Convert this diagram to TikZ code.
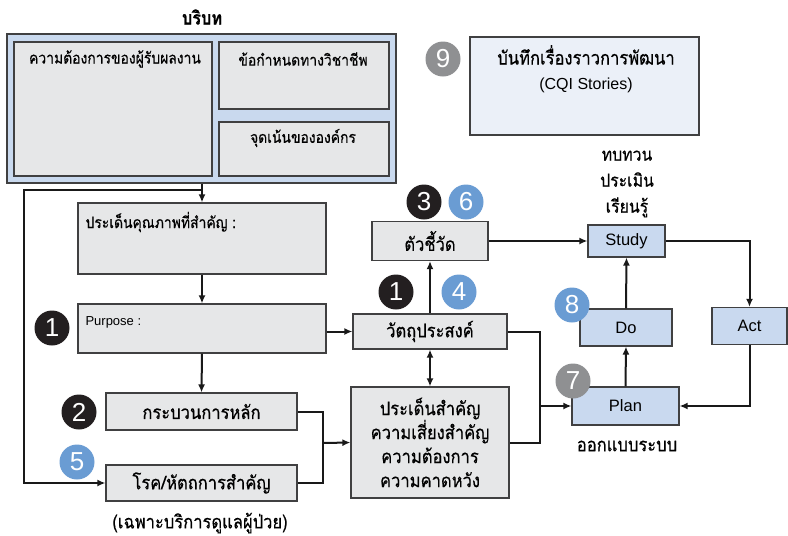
\documentclass[tikz,border=0pt]{standalone}
\usepackage{fontspec}
\setmainfont{Liberation Sans}
\newfontfamily\thaifont[Script=Thai,FakeBold=0.5,FakeStretch=0.88]{Loma}
\usetikzlibrary{arrows.meta}

\definecolor{ctxblue}{HTML}{C9D9EE}
\definecolor{boxgray}{HTML}{E6E7E8}
\definecolor{pdsablue}{HTML}{C9D9EF}
\definecolor{cqiblue}{HTML}{EBF0F8}
\definecolor{numblack}{HTML}{231F20}
\definecolor{numblue}{HTML}{6A9CD3}
\definecolor{numgray}{HTML}{8F9092}
\definecolor{edge}{HTML}{404041}

\begin{document}
\begin{tikzpicture}[x=1pt,y=-1pt,>={Latex[length=8pt,width=7pt]},
  gbox/.style={draw=edge,line width=1.2pt,fill=boxgray,inner sep=0pt},
  pbox/.style={draw=edge,line width=1.2pt,fill=pdsablue,inner sep=0pt,font=\fontsize{16.5}{18}\selectfont},
  th/.style={font=\thaifont\fontsize{15.8}{18}\selectfont},
  thbig/.style={font=\thaifont\fontsize{18.8}{24}\selectfont},
  num/.style={circle,minimum size=35pt,inner sep=0pt,text=white,font=\fontsize{26}{26}\selectfont},
  nblack/.style={num,fill=numblack},
  nblue/.style={num,fill=numblue},
  ngray/.style={num,fill=numgray},
  conn/.style={line width=2pt,black!90}]
\useasboundingbox (0,0) rectangle (788,536);

% context
\node[thbig,font=\thaifont\bfseries\fontsize{18.5}{20}\selectfont] (ttl) at (202,17) {บริบท};
\node[draw=edge,line width=1.2pt,fill=ctxblue,minimum width=389,minimum height=149] (ctx) at (201.5,108.5) {};
\node[gbox,minimum width=198,minimum height=134] (need) at (113,109) {};
\node[gbox,minimum width=170,minimum height=67] (prof) at (304,75.5) {};
\node[gbox,minimum width=170,minimum height=54] (org) at (304,149) {};
\node[th] (needt) at (115,59) {ความต้องการของผู้รับผลงาน};
\node[th] (proft) at (303,59) {ข้อกำหนดทางวิชาชีพ};
\node[th] (orgt) at (303,138) {จุดเน้นขององค์กร};

% left column
\node[gbox,minimum width=248,minimum height=71] (q) at (202,238.5) {};
\node[th,anchor=west] (qt) at (82,222) {ประเด็นคุณภาพที่สำคัญ :};
\node[gbox,minimum width=248,minimum height=49] (purp) at (202,328.5) {};
\node[anchor=west,font=\fontsize{13}{15}\selectfont] (purpt) at (82,322) {Purpose :};
\node[gbox,thbig,minimum width=191,minimum height=37] (proc) at (201.5,411.5) {กระบวนการหลัก};
\node[gbox,thbig,minimum width=191,minimum height=36] (dis) at (201.5,483) {โรค/หัตถการสำคัญ};
\node[thbig] (note) at (200,523) {(เฉพาะบริการดูแลผู้ป่วย)};

% middle column
\node[gbox,thbig,minimum width=116,minimum height=39] (ind) at (430,241) {ตัวชี้วัด};
\node[gbox,thbig,minimum width=154,minimum height=35] (obj) at (430,331.5) {วัตถุประสงค์};
\node[gbox,thbig,align=center,minimum width=158,minimum height=111] (iss) at (430,442.5)
  {ประเด็นสำคัญ\\ความเสี่ยงสำคัญ\\ความต้องการ\\ความคาดหวัง};

% PDSA
\node[pbox,minimum width=77,minimum height=32] (study) at (626.5,241) {Study};
\node[pbox,minimum width=92,minimum height=37] (do) at (626,327.5) {Do};
\node[pbox,minimum width=75,minimum height=37] (act) at (749.5,326) {Act};
\node[pbox,minimum width=107,minimum height=38] (plan) at (625.5,406) {Plan};
\node[thbig,align=center,font=\thaifont\fontsize{18}{26}\selectfont] (rev) at (627,184) {ทบทวน\\ประเมิน\\เรียนรู้};
\node[thbig] (des) at (627,446) {ออกแบบระบบ};

% stories
\node[draw=edge,line width=1.2pt,fill=cqiblue,minimum width=229,minimum height=98] (cqi) at (584.5,86) {};
\node[align=center,font=\fontsize{16}{25}\selectfont] (cqit) at (586,69)
  {{\thaifont\fontsize{18.8}{25}\selectfont บันทึกเรื่องราวการพัฒนา}\\(CQI Stories)};

% connectors
\coordinate (split) at (202,190);
\coordinate (mrg) at (323,443);
\coordinate (jn) at (540,406);
\draw[conn,->] (ctx.south -| q.north) -- (q.north);
\draw[conn,->] (split) -- (24,190) |- (dis.west);
\draw[conn,->] (q.south) -- (purp.north);
\draw[conn,->] (purp.east |- obj.west) -- (obj.west);
\draw[conn,->] (purp.south) -- (proc.north);
\draw[conn] (proc.east) -| (mrg) |- (dis.east);
\draw[conn,->] (mrg) -- (iss.west);
\draw[conn,<->] (obj.south) -- (iss.north);
\draw[conn,->] (obj.north) -- (ind.south);
\draw[conn,->] (ind.east) -- (study.west);
\draw[conn] (obj.east) -| (jn) |- (iss.east);
\draw[conn,->] (jn) -- (plan.west);
\draw[conn,->] (plan.north) -- (do.south);
\draw[conn,->] (do.north) -- (study.south);
\draw[conn,->] (study.east) -| (act.north);
\draw[conn,->] (act.south) |- (plan.east);

% numbers
\node[nblack] (n1a) at (52,328) {1};
\node[nblack] (n2) at (79,412) {2};
\node[nblue] (n5) at (77,462) {5};
\node[nblack] (n3) at (424,202) {3};
\node[nblue] (n6) at (466,202) {6};
\node[nblack] (n1b) at (396,292) {1};
\node[nblue] (n4) at (459,292) {4};
\node[nblue] (n8) at (572,305) {8};
\node[ngray] (n7) at (573,381) {7};
\node[ngray] (n9) at (443,59) {9};
\end{tikzpicture}
\end{document}
